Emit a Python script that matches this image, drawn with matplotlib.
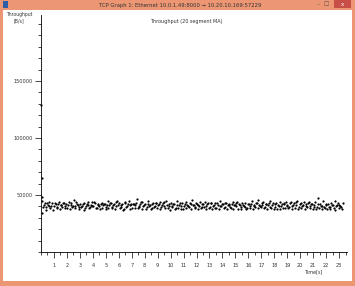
import numpy as np
import matplotlib.pyplot as plt
from matplotlib.patches import Rectangle
from matplotlib.ticker import MultipleLocator

## data: throughput (20 segment MA), B/s vs time in s

t_start = [0.03, 0.04, 0.05, 0.06]
v_start = [129000, 65000, 48000, 34500]

times = [
    0.10, 0.23, 0.35, 0.47, 0.58, 0.71, 0.84,
    1.02, 1.13, 1.27, 1.38, 1.52, 1.63, 1.77, 1.89,
    2.04, 2.16, 2.28, 2.41, 2.53, 2.66, 2.78, 2.91,
    3.03, 3.15, 3.29, 3.40, 3.54, 3.66, 3.79, 3.90,
    4.05, 4.17, 4.30, 4.42, 4.55, 4.67, 4.80, 4.92,
    5.01, 5.14, 5.26, 5.39, 5.51, 5.64, 5.75, 5.88,
    6.03, 6.15, 6.27, 6.40, 6.52, 6.65, 6.78, 6.90,
    7.02, 7.16, 7.28, 7.39, 7.53, 7.64, 7.77, 7.89,
    8.04, 8.15, 8.29, 8.41, 8.53, 8.66, 8.79, 8.91,
    9.03, 9.16, 9.27, 9.40, 9.52, 9.65, 9.77, 9.90,
    10.02, 10.14, 10.28, 10.39, 10.53, 10.65, 10.78, 10.90,
    11.04, 11.16, 11.29, 11.41, 11.54, 11.66, 11.79, 11.91,
    12.02, 12.15, 12.27, 12.40, 12.52, 12.64, 12.77, 12.89,
    13.03, 13.15, 13.28, 13.40, 13.53, 13.65, 13.78, 13.90,
    14.04, 14.16, 14.29, 14.41, 14.53, 14.66, 14.78, 14.91,
    15.02, 15.15, 15.27, 15.40, 15.52, 15.65, 15.77, 15.90,
    16.03, 16.15, 16.28, 16.40, 16.53, 16.65, 16.78, 16.90,
    17.02, 17.15, 17.27, 17.39, 17.52, 17.64, 17.77, 17.89,
    18.03, 18.16, 18.28, 18.41, 18.53, 18.66, 18.78, 18.91,
    19.02, 19.14, 19.27, 19.39, 19.52, 19.64, 19.77, 19.89,
    20.04, 20.16, 20.29, 20.41, 20.54, 20.66, 20.79, 20.91,
    21.03, 21.15, 21.28, 21.40, 21.53, 21.65, 21.78, 21.90,
    22.02, 22.15, 22.27, 22.40, 22.52, 22.65, 22.77, 22.90,
    23.02, 23.15, 23.28,
]

throughput = [
    44500, 41000, 39200, 42800, 40100, 38600, 43200,
    40500, 42100, 38900, 44000, 41300, 39700, 42600, 40200,
    38400, 43500, 41100, 39900, 45200, 40600, 42300, 39100,
    41800, 40000, 43100, 38200, 42000, 41500, 39400, 44100,
    40700, 42900, 39000, 41600, 37800, 43400, 40900, 42200,
    39500, 44600, 41200, 43000, 38700, 42500, 40300, 45000,
    42700, 39800, 41900, 37500, 43800, 40400, 44300, 41000,
    38800, 42400, 40800, 46200, 39300, 41700, 43600, 40100,
    42000, 39600, 44800, 41400, 38500, 43300, 40600, 42800,
    41100, 43900, 39200, 42600, 40000, 44400, 38900, 41800,
    43200, 40500, 42100, 39000, 44700, 41300, 37900, 42900,
    40200, 43700, 41600, 39400, 42300, 45500, 40800, 38600,
    42500, 41000, 43800, 39700, 41900, 44200, 40400, 42700,
    39100, 42800, 40700, 43400, 38300, 41500, 44900, 40000,
    41700, 39300, 43000, 40900, 42400, 38800, 43600, 41200,
    40300, 44100, 41800, 39500, 42900, 40600, 43300, 38700,
    42200, 40100, 44500, 41400, 39800, 43100, 46000, 40700,
    41300, 43700, 39600, 42000, 40800, 44300, 38400, 42600,
    39900, 42700, 41100, 43900, 40200, 38900, 42300, 44000,
    41600, 39200, 43500, 40400, 42800, 41000, 45100, 39700,
    42900, 40600, 44200, 41800, 39400, 43600, 40100, 42400,
    41200, 43800, 39800, 47000, 42100, 40300, 44600, 38200,
    40900, 42500, 39600, 43200, 41400, 44800, 40000, 42700,
    41500, 39300, 43000,
]

# second batch of segments, between the ones above
times_b = [
    0.16, 0.29, 0.41, 0.52, 0.65, 0.78, 0.95,
    1.07, 1.20, 1.32, 1.45, 1.57, 1.70, 1.82, 1.96,
    2.10, 2.22, 2.34, 2.47, 2.59, 2.72, 2.84, 2.97,
    3.09, 3.22, 3.34, 3.47, 3.60, 3.72, 3.84, 3.97,
    4.11, 4.23, 4.36, 4.48, 4.61, 4.73, 4.86, 4.98,
    5.08, 5.20, 5.33, 5.45, 5.57, 5.70, 5.82, 5.95,
    6.09, 6.21, 6.34, 6.46, 6.59, 6.71, 6.84, 6.96,
    7.09, 7.22, 7.33, 7.46, 7.58, 7.71, 7.83, 7.96,
    8.10, 8.22, 8.35, 8.47, 8.60, 8.72, 8.85, 8.97,
    9.09, 9.21, 9.34, 9.46, 9.58, 9.71, 9.84, 9.96,
    10.08, 10.21, 10.33, 10.46, 10.59, 10.71, 10.84, 10.96,
    11.10, 11.22, 11.35, 11.47, 11.60, 11.72, 11.85, 11.97,
    12.08, 12.21, 12.33, 12.46, 12.58, 12.70, 12.83, 12.95,
    13.09, 13.21, 13.34, 13.46, 13.59, 13.71, 13.84, 13.96,
    14.10, 14.22, 14.35, 14.47, 14.59, 14.72, 14.84, 14.97,
    15.08, 15.21, 15.33, 15.46, 15.58, 15.71, 15.83, 15.96,
    16.09, 16.21, 16.34, 16.46, 16.59, 16.71, 16.84, 16.96,
    17.08, 17.21, 17.33, 17.45, 17.58, 17.70, 17.83, 17.95,
    18.09, 18.22, 18.34, 18.47, 18.59, 18.72, 18.84, 18.97,
    19.08, 19.20, 19.33, 19.45, 19.58, 19.70, 19.83, 19.95,
    20.10, 20.22, 20.35, 20.47, 20.60, 20.72, 20.85, 20.97,
    21.09, 21.21, 21.34, 21.46, 21.59, 21.71, 21.84, 21.96,
    22.08, 22.21, 22.33, 22.46, 22.58, 22.71, 22.83, 22.96,
    23.08, 23.21,
]

throughput_b = [
    39800, 42600, 37200, 41500, 43900, 40300, 36800,
    42900, 39100, 41700, 37600, 40800, 43300, 38200, 41900,
    40900, 37400, 42700, 40200, 38600, 43800, 41400, 37900,
    39300, 42400, 36900, 40700, 43600, 38900, 41200, 40400,
    43700, 38300, 41800, 40100, 42500, 38800, 42000, 37300,
    41300, 38600, 42600, 39900, 41100, 37700, 43500, 40900,
    38400, 41600, 36700, 42800, 39600, 41900, 37800, 42300,
    41800, 39000, 42700, 38500, 40600, 44100, 37600, 41400,
    38100, 42500, 40200, 37300, 41700, 39500, 43000, 38700,
    42400, 37900, 40900, 43600, 38300, 41300, 40500, 36900,
    39600, 42200, 37700, 41500, 38800, 43100, 40400, 38100,
    41900, 38700, 40300, 42800, 37400, 41000, 39200, 43400,
    37800, 40600, 38500, 42100, 39400, 37500, 41800, 38900,
    42600, 37600, 41200, 39000, 42900, 38000, 40500, 42300,
    38400, 42700, 37300, 41400, 39200, 42000, 37700, 40800,
    43200, 38100, 40900, 37900, 41600, 39300, 37400, 42200,
    38600, 42400, 37800, 40300, 43300, 38200, 41500, 39100,
    42800, 38300, 41900, 37500, 43100, 39400, 41200, 37600,
    42500, 38000, 40700, 37700, 41800, 43400, 38900, 40100,
    38300, 42900, 37400, 41300, 38800, 43700, 37900, 41700,
    38200, 41400, 37800, 40500, 43200, 38700, 42100, 37300,
    39500, 37900, 42200, 38600, 40700, 37500, 39900, 42300,
    38100, 39700, 37600, 41100, 38500, 37200, 41600, 38800,
    40200, 37500,
]

yticks = [50000, 100000, 150000]
xticks = list(range(1, 24))

W, H = 355, 286
frame = "#ec9674"

fig = plt.figure(figsize=(W / 100, H / 100), dpi=100)
fig.patch.set_facecolor(frame)

def box(x, y, w, h, color):
    # pixel box (from top-left) -> rectangle in figure fraction
    r = Rectangle((x / W, 1 - (y + h) / H), w / W, h / H, transform=fig.transFigure,
                  facecolor=color, edgecolor="none", zorder=-5)
    fig.add_artist(r)

## window chrome
box(3, 10, 349, 271, "white")
box(334, 0, 17, 8, "#c84f48")
box(3, 1, 5, 7, "#2d5fa8")
fig.text(342.5 / W, 1 - 4 / H, "x", color="white", fontsize=4, ha="center", va="center")
fig.text(326 / W, 1 - 4 / H, "\u25a1", color="#555555", fontsize=4, ha="center", va="center")
fig.text(318 / W, 1 - 4.5 / H, "\u2013", color="#555555", fontsize=4, ha="center", va="center")
fig.text(180 / W, 1 - 5 / H,
         "TCP Graph 1: Ethernet 10.0.1.49:8000 \u2192 10.20.10.169:57229",
         fontsize=3.8, color="#333333", ha="center", va="center")

## plot
ax = fig.add_axes((41 / W, 1 - 252 / H, 306 / W, 237 / H))
ax.patch.set_alpha(0)
ax.plot(t_start + times + times_b, v_start + throughput + throughput_b, "o",
        color="black", markersize=1.6, markeredgewidth=0, clip_on=False)

ax.set_xlim(0, 306 / 12.96)
ax.set_ylim(0, 237 / 57 * 50000)

for s in ["top", "right"]:
    ax.spines[s].set_visible(False)
for s in ["left", "bottom"]:
    ax.spines[s].set_linewidth(0.6)

ax.set_yticks(yticks)
ax.set_yticklabels([str(v) for v in yticks])
ax.yaxis.set_minor_locator(MultipleLocator(10000))
ax.set_xticks(xticks)
ax.set_xticklabels([str(v) for v in xticks])
ax.xaxis.set_minor_locator(MultipleLocator(0.5))

ax.tick_params(which="major", length=4, width=0.5, labelsize=3.6,
               labelcolor="#333333", pad=2)
ax.tick_params(which="minor", length=2, width=0.5)
ax.tick_params(axis="x", which="major", pad=4)

fig.text(19 / W, 1 - 18 / H, "Throughput\n[B/s]", fontsize=3.3, color="#333333",
         ha="center", va="center", linespacing=1.3)
fig.text(186 / W, 1 - 22 / H, "Throughput (20 segment MA)", fontsize=3.5,
         color="#333333", ha="center", va="center")
fig.text(313 / W, 1 - 272 / H, "Time[s]", fontsize=3.5, color="#333333",
         ha="center", va="center")

fig.savefig("out.png", dpi=100, facecolor=frame)
